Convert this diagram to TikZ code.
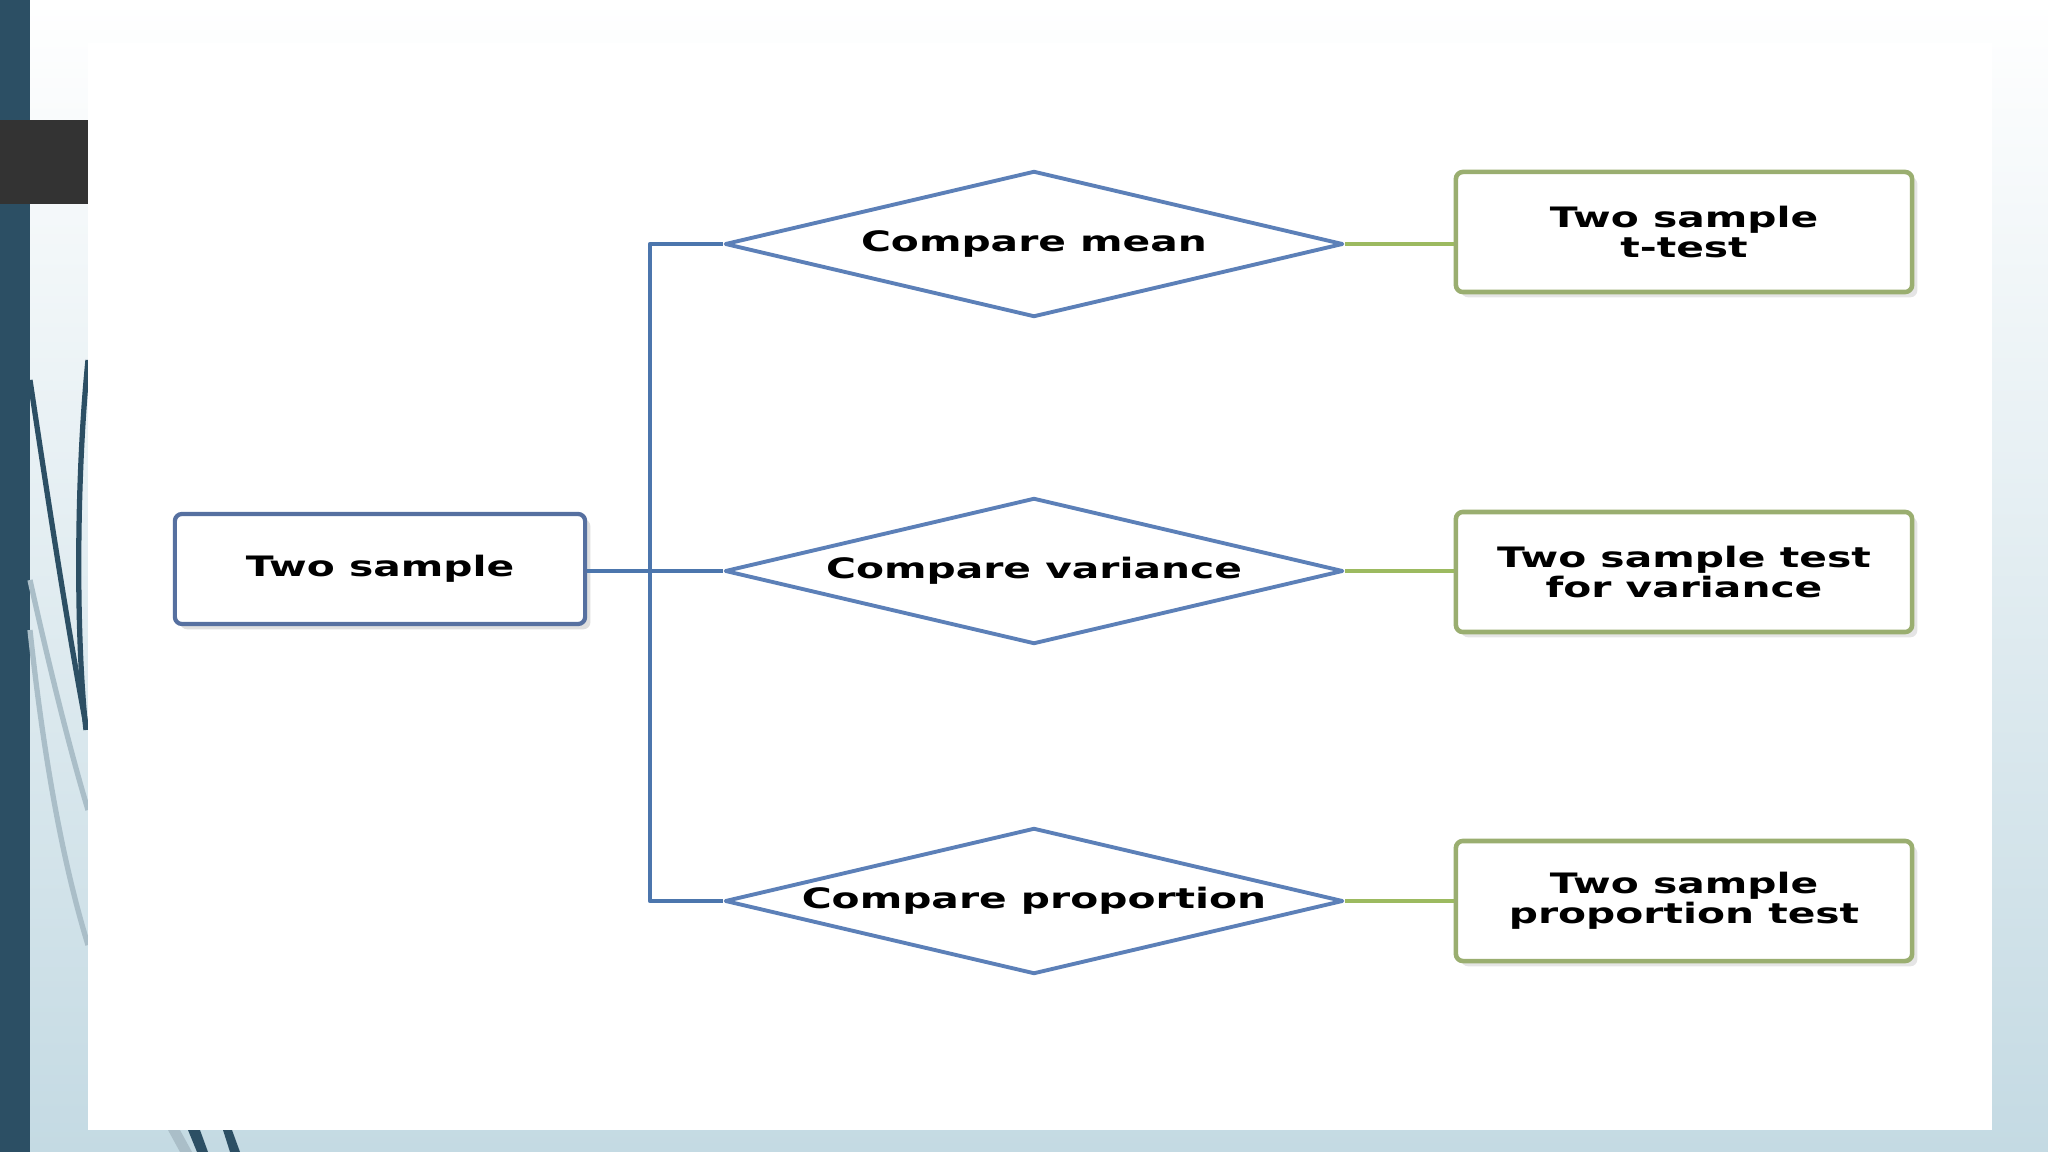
\documentclass[tikz,border=0pt]{standalone}
\usepackage{fontspec}
\newfontfamily\boxfont[FakeStretch=1.45]{DejaVu Sans}
\usetikzlibrary{shapes.geometric,shadows}
\definecolor{barblue}{RGB}{44,79,100}
\definecolor{bgblue}{RGB}{196,218,227}
\definecolor{bgmid}{RGB}{232,240,244}
\definecolor{curvegray}{RGB}{170,190,200}
\definecolor{startblue}{RGB}{86,112,160}
\definecolor{diamblue}{RGB}{92,128,184}
\definecolor{trunkblue}{RGB}{76,118,173}
\definecolor{resgreen}{RGB}{154,174,112}
\definecolor{linkgreen}{RGB}{156,186,96}
\def\trunkx{650}
\def\choicex{1034}
\def\resx{1684}
\tikzset{
  txt/.style={
    font=\boxfont\bfseries\fontsize{8}{8.6}\selectfont,
    text=black,align=center
},
  start/.style={txt,rectangle,rounded corners=2pt,
    draw=startblue,line width=1.2pt,fill=white,
    minimum width=4.10cm,minimum height=1.10cm,
    drop shadow={shadow xshift=1.5pt,shadow yshift=-1.5pt,opacity=.25}},
  choice/.style={txt,diamond,aspect=4.2,inner sep=0pt,
    draw=diamblue,line width=1.1pt,fill=white,
    minimum width=6.18cm,minimum height=1.46cm},
  result/.style={txt,rectangle,rounded corners=2pt,
    draw=resgreen,line width=1.3pt,fill=white,
    minimum width=4.56cm,minimum height=1.20cm,
    drop shadow={shadow xshift=1.5pt,shadow yshift=-1.5pt,opacity=.2}},
  trunk/.style={draw=trunkblue,line width=1.2pt},
  link/.style={draw=linkgreen,line width=1pt}
}
\begin{document}
\begin{tikzpicture}[x=0.01cm,y=-0.01cm,line join=round]
\useasboundingbox (0,0) rectangle (2048,1152);
% slide background
\shade[top color=white,middle color=bgmid,bottom color=bgblue] (0,0) rectangle (2048,1152);
\fill[barblue] (0,0) rectangle (30,1152);
\draw[barblue,line width=1.5pt] (30,380) .. controls (48,500) and (68,630) .. (86,725);
\draw[barblue,line width=1.5pt] (88,360) .. controls (76,480) and (76,640) .. (86,730);
\draw[curvegray,line width=1.5pt] (30,580) .. controls (50,670) and (70,750) .. (88,810);
\draw[curvegray,line width=1.5pt] (30,630) .. controls (45,770) and (65,870) .. (88,945);
\fill[curvegray] (168,1130) -- (180,1130) -- (192,1152) -- (180,1152) -- cycle;
\fill[barblue] (188,1130) -- (200,1130) -- (208,1152) -- (197,1152) -- cycle;
\fill[barblue] (223,1130) -- (232,1130) -- (240,1152) -- (230,1152) -- cycle;
\fill[black!80] (0,120) rectangle (88,204);
\fill[white] (88,43) rectangle (1992,1130);

\node[start] (two) at (380,569) {Two sample};
\foreach \n/\y/\q in {1/244/Compare mean,2/571/Compare variance,3/901/Compare proportion}{
    \node[choice] (c\n) at (\choicex,\y) {\q};
}
\foreach \n/\y/\q in {1/232/{Two sample\\t-test},2/572/{Two sample test\\for variance},3/901/{Two sample\\proportion test}}{
    \node[result] (r\n) at (\resx,\y) {\q};
}
\coordinate (jn) at (\trunkx,571);
\draw[trunk] (c1.west) -| (jn) |- (c3.west);
\draw[trunk] (two.east |- c2.west) -- (c2.west);
\foreach \n in {1,2,3}{
    \draw[link] (c\n.east) -- (c\n.east -| r\n.west);
}
\end{tikzpicture}
\end{document}
